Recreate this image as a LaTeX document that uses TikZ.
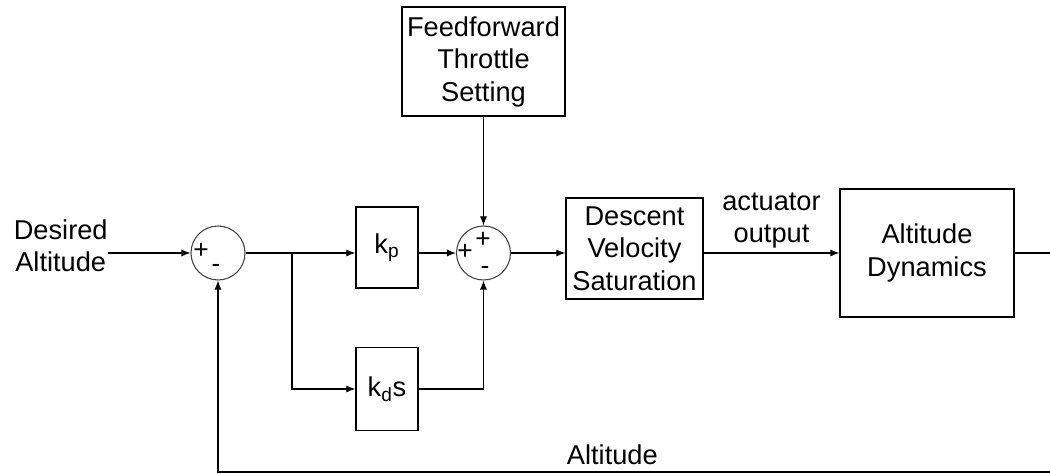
\documentclass[tikz,border=0pt]{standalone}
\usepackage{fontspec}
\setmainfont{Liberation Sans}
\usetikzlibrary{arrows.meta,positioning}

\begin{document}
\begin{tikzpicture}[
    block/.style={rectangle, draw, line width=0.7pt, align=center, inner sep=0pt, font=\fontsize{15.5}{18.5}\selectfont},
    sum/.style={circle, draw=black!75, line width=0.6pt, minimum size=1.08cm, inner sep=0pt},
    sign/.style={inner sep=0pt, font=\fontsize{15}{15}\selectfont},
    txt/.style={align=center, inner sep=0pt, font=\fontsize{15.5}{18.5}\selectfont},
    link/.style={-{Latex[length=1.8mm,width=1.4mm]}, line width=0.6pt},
    wire/.style={line width=0.6pt}
]
\useasboundingbox (0,0) rectangle (21,-9.48);

% ============ inputs and summing junctions ============
\node[txt, anchor=east] (des-alt) at (2.16,-4.92) {Desired\\Altitude};
\node[sum] (sum-1) at (4.36,-5.06) {};
\node[sign] (sum-1-p) at ([shift={(-0.34,0.04)}]sum-1.center) {+};
\node[sign] (sum-1-m) at ([shift={(-0.04,-0.31)}]sum-1.center) {-};
\coordinate (split) at (5.84,-5.06);

\node[sum] (sum-2) at (9.67,-5.06) {};
\node[sign] (sum-2-pl) at ([shift={(-0.37,0.03)}]sum-2.center) {+};
\node[sign] (sum-2-pt) at ([shift={(-0.01,0.26)}]sum-2.center) {+};
\node[sign] (sum-2-m) at ([shift={(0.03,-0.35)}]sum-2.center) {-};

% ============ controller blocks ============
\node[block, minimum width=1.24cm, minimum height=1.62cm] (kp-box) at (7.74,-4.95) {k\textsubscript{p}};
\node[block, minimum width=1.24cm, minimum height=1.66cm] (kd-box) at (7.74,-7.78) {k\textsubscript{d}s};
\node[block, minimum width=3.26cm, minimum height=2.18cm] (ff-box) at (9.67,-1.23) {Feedforward\\Throttle\\Setting};

% ============ plant ============
\node[block, minimum width=2.74cm, minimum height=2.02cm] (sat-box) at (12.69,-4.97) {Descent\\Velocity\\Saturation};
\node[block, minimum width=3.48cm, minimum height=2.56cm] (dyn-box) at (18.54,-5.06) {Altitude\\Dynamics};
\coordinate (out-end) at (21,-5.06);
\coordinate (fb-end) at (21,-9.44);

% ============ connectors ============
\draw[link] (des-alt.east |- sum-1) -- (sum-1);
\draw[wire] (sum-1) -- (split);
\draw[link] (split) -- (split -| kp-box.west);
\draw[link] (split) |- (kd-box.west);
\draw[link] (kp-box.east |- sum-2) -- (sum-2);
\draw[link] (kd-box.east) -| (sum-2.south);
\draw[link] (ff-box.south -| sum-2) -- (sum-2.north);
\draw[link] (sum-2) -- (sat-box.west |- sum-2);
\draw[link] (sat-box.east |- sum-2) -- node[txt, above=0.08cm] (act-out) {actuator\\output} (dyn-box.west |- sum-2);
\draw[wire] (dyn-box.east) -- (out-end);
\draw[link] (fb-end) -- node[txt, above=0.14cm, pos=0.526] (fb-label) {Altitude} (fb-end -| sum-1) -- (sum-1.south);

\end{tikzpicture}
\end{document}
